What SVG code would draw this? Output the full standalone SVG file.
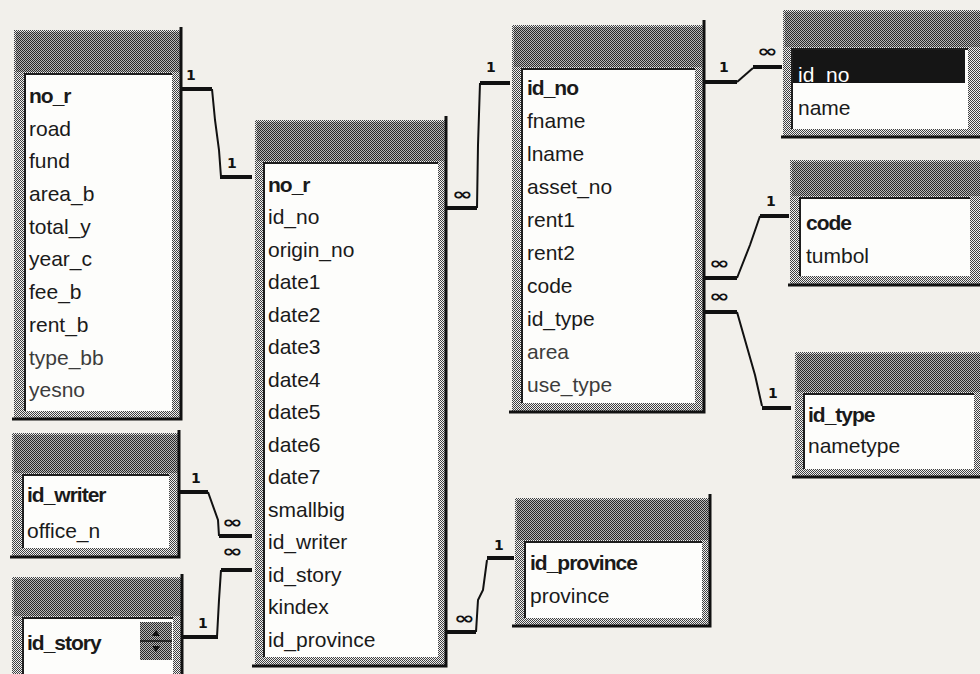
<svg xmlns="http://www.w3.org/2000/svg" width="980" height="674" viewBox="0 0 980 674">
<defs>
<pattern id="dz" width="2" height="2" patternUnits="userSpaceOnUse"><rect width="2" height="2" fill="#f0f0f0"/><rect width="1" height="1" fill="#404040"/><rect x="1" y="1" width="1" height="1" fill="#404040"/></pattern>
<pattern id="dt" width="2" height="2" patternUnits="userSpaceOnUse"><rect width="2" height="2" fill="#b8b8b8"/><rect width="1" height="1" fill="#2a2a2a"/><rect x="1" y="1" width="1" height="1" fill="#2a2a2a"/></pattern>
<style>
.frame{fill:url(#dz)}
.title{fill:url(#dt)}
.body{fill:#fdfdfb}
.sunk{fill:none;stroke:#1e1e1e;stroke-width:2}
.edge{fill:none;stroke:#111;stroke-width:3}
.f{font-family:"Liberation Sans",Arial,sans-serif;font-size:21px;fill:#1a1a1a}
.k{font-weight:bold;letter-spacing:-1px}
.g{fill:#3c3c3c}
.thick{stroke:#111;stroke-width:4;fill:none}
.thin{stroke:#111;stroke-width:2;fill:none}
.one{font-family:"DejaVu Sans",sans-serif;font-weight:bold;font-size:14px;fill:#111}
.inf{font-family:"DejaVu Sans",sans-serif;font-weight:bold;font-size:17px;fill:#111}
</style>
</defs>
<rect width="980" height="674" fill="#f2f0eb"/>

<g id="connectors">
  <!-- t1.no_r -> central.no_r -->
  <path class="thick" d="M182,89 H212"/>
  <path class="thin" d="M212,89 L215,120 L219,150 L221,177"/>
  <path class="thick" d="M220,177 H252"/>
  <text class="one" x="186" y="80">1</text>
  <text class="one" x="227" y="168">1</text>
  <!-- central.id_no -> t4.id_no -->
  <path class="thick" d="M446,208 H477"/>
  <path class="thin" d="M477,208 L478,145 L480,83"/>
  <path class="thick" d="M480,83 H510"/>
  <text class="inf" x="452" y="200" textLength="21" lengthAdjust="spacingAndGlyphs">∞</text>
  <text class="one" x="486" y="72">1</text>
  <!-- t4.id_no -> t5.id_no -->
  <path class="thick" d="M704,82 H737"/>
  <path class="thin" d="M737,82 L753,68"/>
  <path class="thick" d="M753,67 H782"/>
  <text class="one" x="719" y="72">1</text>
  <text class="inf" x="757" y="57" textLength="21" lengthAdjust="spacingAndGlyphs">∞</text>
  <!-- t4.code -> t6.code -->
  <path class="thick" d="M704,278 H737"/>
  <path class="thin" d="M737,278 L750,245 L760,216"/>
  <path class="thick" d="M760,216 H789"/>
  <text class="inf" x="709" y="269" textLength="21" lengthAdjust="spacingAndGlyphs">∞</text>
  <text class="one" x="766" y="206">1</text>
  <!-- t4.id_type -> t7.id_type -->
  <path class="thick" d="M704,312 H737"/>
  <path class="thin" d="M737,312 L745,340 L755,375 L762,406"/>
  <path class="thick" d="M762,408 H791"/>
  <text class="inf" x="709" y="302" textLength="21" lengthAdjust="spacingAndGlyphs">∞</text>
  <text class="one" x="768" y="398">1</text>
  <!-- t2.id_writer -> central.id_writer -->
  <path class="thick" d="M179,492 H208"/>
  <path class="thin" d="M208,492 L218,520 L219,536"/>
  <path class="thick" d="M219,536 H252"/>
  <text class="one" x="191" y="483">1</text>
  <text class="inf" x="222" y="528" textLength="21" lengthAdjust="spacingAndGlyphs">∞</text>
  <!-- t3.id_story -> central.id_story -->
  <path class="thick" d="M221,570 H252"/>
  <path class="thin" d="M221,570 L219,600 L217,637"/>
  <path class="thick" d="M183,637 H218"/>
  <text class="inf" x="222" y="557" textLength="21" lengthAdjust="spacingAndGlyphs">∞</text>
  <text class="one" x="198" y="628">1</text>
  <!-- central.id_province -> t8.id_province -->
  <path class="thick" d="M446,632 H476"/>
  <path class="thin" d="M476,632 L478,600 L483,590 L487,560"/>
  <path class="thick" d="M487,558 H514"/>
  <text class="inf" x="454" y="624" textLength="21" lengthAdjust="spacingAndGlyphs">∞</text>
  <text class="one" x="494" y="550">1</text>
</g>

<g id="t1">
  <rect class="frame" x="14" y="30" width="168" height="390"/>
  <rect class="title" x="16" y="32" width="164" height="40"/>
  <rect class="body" x="25" y="74" width="147" height="337"/>
  <path class="sunk" d="M25,411 V74 H172"/>
  <path class="edge" d="M181,27 V419 H12"/>
  <text class="f k" x="29" y="103">no_r</text>
  <text class="f" x="29" y="136">road</text>
  <text class="f" x="29" y="168">fund</text>
  <text class="f" x="29" y="201">area_b</text>
  <text class="f" x="29" y="234">total_y</text>
  <text class="f" x="29" y="266">year_c</text>
  <text class="f" x="29" y="299">fee_b</text>
  <text class="f" x="29" y="332">rent_b</text>
  <text class="f g" x="29" y="365">type_bb</text>
  <text class="f g" x="29" y="397">yesno</text>
</g>

<g id="t2">
  <rect class="frame" x="12" y="433" width="168" height="124"/>
  <rect class="title" x="14" y="435" width="164" height="38"/>
  <rect class="body" x="23" y="475" width="146" height="73"/>
  <path class="sunk" d="M23,548 V475 H169"/>
  <path class="edge" d="M179,430 V557 H10"/>
  <text class="f k" x="27" y="502">id_writer</text>
  <text class="f" x="27" y="538">office_n</text>
</g>

<g id="t3">
  <rect class="frame" x="12" y="577" width="171" height="100"/>
  <rect class="title" x="14" y="579" width="167" height="37"/>
  <rect class="body" x="23" y="618" width="150" height="60"/>
  <path class="sunk" d="M23,678 V618 H173"/>
  <path class="edge" d="M182,574 V674"/>
  <rect class="title" x="140" y="622" width="32" height="38"/>
  <path d="M140,641 H172" stroke="#111" stroke-width="1.5"/>
  <path d="M152,636 L156,630 L160,636 Z M152,646 L156,652 L160,646 Z" fill="#111"/>
  <text class="f k" x="27" y="650">id_story</text>
</g>

<g id="t_central">
  <rect class="frame" x="255" y="120" width="191" height="547"/>
  <rect class="title" x="257" y="122" width="187" height="39"/>
  <rect class="body" x="264" y="163" width="174" height="494"/>
  <path class="sunk" d="M264,657 V163 H438"/>
  <path class="edge" d="M446,116 V666 H252"/>
  <text class="f k" x="268" y="192">no_r</text>
  <text class="f" x="268" y="224">id_no</text>
  <text class="f" x="268" y="257">origin_no</text>
  <text class="f" x="268" y="289">date1</text>
  <text class="f" x="268" y="322">date2</text>
  <text class="f" x="268" y="354">date3</text>
  <text class="f" x="268" y="387">date4</text>
  <text class="f" x="268" y="419">date5</text>
  <text class="f" x="268" y="452">date6</text>
  <text class="f" x="268" y="484">date7</text>
  <text class="f" x="268" y="517">smallbig</text>
  <text class="f" x="268" y="549">id_writer</text>
  <text class="f" x="268" y="582">id_story</text>
  <text class="f" x="268" y="614">kindex</text>
  <text class="f" x="268" y="647">id_province</text>
</g>

<g id="t4">
  <rect class="frame" x="512" y="25" width="192" height="388"/>
  <rect class="title" x="514" y="27" width="188" height="40"/>
  <rect class="body" x="522" y="69" width="173" height="334"/>
  <path class="sunk" d="M522,403 V69 H695"/>
  <path class="edge" d="M704,20 V412 H509"/>
  <text class="f k" x="527" y="95">id_no</text>
  <text class="f" x="527" y="128">fname</text>
  <text class="f" x="527" y="161">lname</text>
  <text class="f" x="527" y="194">asset_no</text>
  <text class="f" x="527" y="227">rent1</text>
  <text class="f" x="527" y="260">rent2</text>
  <text class="f" x="527" y="293">code</text>
  <text class="f" x="527" y="326">id_type</text>
  <text class="f g" x="527" y="359">area</text>
  <text class="f g" x="527" y="392">use_type</text>
</g>

<g id="t5">
  <rect class="frame" x="783" y="10" width="197" height="127"/>
  <rect class="title" x="785" y="12" width="195" height="35"/>
  <rect class="body" x="792" y="49" width="176" height="80"/>
  <rect x="793" y="50" width="172" height="33" fill="#151515"/>
  <path class="sunk" d="M792,129 V49 H968"/>
  <path class="edge" d="M781,137 H980"/>
  <text class="f" x="798" y="82" style="fill:#fff">id_no</text>
  <text class="f" x="798" y="115">name</text>
</g>

<g id="t6">
  <rect class="frame" x="790" y="160" width="190" height="125"/>
  <rect class="title" x="792" y="162" width="188" height="34"/>
  <rect class="body" x="800" y="198" width="170" height="78"/>
  <path class="sunk" d="M800,276 V198 H970"/>
  <path class="edge" d="M788,285 H980"/>
  <text class="f k" x="806" y="230">code</text>
  <text class="f" x="806" y="263">tumbol</text>
</g>

<g id="t7">
  <rect class="frame" x="795" y="352" width="185" height="125"/>
  <rect class="title" x="797" y="354" width="183" height="38"/>
  <rect class="body" x="804" y="394" width="170" height="75"/>
  <path class="sunk" d="M804,469 V394 H974"/>
  <path class="edge" d="M792,477 H980"/>
  <text class="f k" x="808" y="422">id_type</text>
  <text class="f" x="808" y="453">nametype</text>
</g>

<g id="t8">
  <rect class="frame" x="515" y="498" width="195" height="128"/>
  <rect class="title" x="517" y="500" width="191" height="40"/>
  <rect class="body" x="525" y="542" width="177" height="76"/>
  <path class="sunk" d="M525,618 V542 H702"/>
  <path class="edge" d="M710,494 V626 H512"/>
  <text class="f k" x="530" y="570">id_province</text>
  <text class="f" x="530" y="603">province</text>
</g>
</svg>
